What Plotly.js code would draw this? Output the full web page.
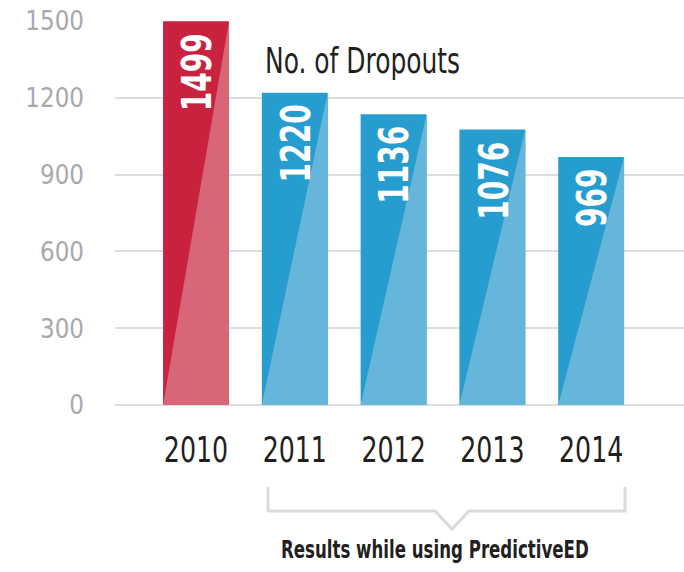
<!DOCTYPE html>
<html>
<head>
<meta charset="utf-8">
<script src="https://cdn.plot.ly/plotly-3.0.1.min.js"></script>
<style>html,body{margin:0;padding:0;background:#fff;}#chart{width:684px;height:572px;}</style>
</head>
<body>
<div id="chart"></div>
<script>
// ---- data ----
const years = ["2010", "2011", "2012", "2013", "2014"];
const dropouts = [1499, 1220, 1136, 1076, 969];
const yTicks = [0, 300, 600, 900, 1200, 1500];
const chartTitle = "No. of Dropouts";
const bracketLabel = "Results while using PredictiveED";

// ---- styling ----
const FONT = "'DejaVu Sans Condensed', 'Liberation Sans Narrow', sans-serif";
const darkColors = ["#C8223F", "#279DCF", "#279DCF", "#279DCF", "#279DCF"];
const lightColors = ["#D96678", "#66B6DC", "#66B6DC", "#66B6DC", "#66B6DC"];
const BW = 0.667;

const xs = years.map((_, i) => i);
const traces = [{
  type: "bar", x: xs, y: dropouts, width: BW,
  marker: {color: darkColors, line: {width: 0}},
  hoverinfo: "skip", showlegend: false
}];
xs.forEach((i) => {
  const l = i - BW / 2, r = i + BW / 2, v = dropouts[i];
  traces.push({
    type: "scatter", mode: "lines", x: [l, r, r, l], y: [0, 0, v, 0],
    fill: "toself", fillcolor: lightColors[i], line: {width: 0},
    hoverinfo: "skip", showlegend: false
  });
});

const annotations = xs.map((i) => ({
  x: i, y: dropouts[i], xref: "x", yref: "y",
  text: "<b>" + dropouts[i] + "</b>", textangle: -90, showarrow: false,
  xanchor: "center", yanchor: "top", align: "right", yshift: -10, xshift: 1,
  font: {family: FONT, size: 40, color: "#FFFFFF"}
}));
annotations.push({
  xref: "paper", yref: "paper", x: 0.435, y: 0.898, xanchor: "center", yanchor: "middle",
  text: chartTitle, showarrow: false, font: {family: FONT, size: 36, color: "#231F20"}
});
annotations.push({
  xref: "paper", yref: "paper", x: 0.5624, y: -0.3776, xanchor: "center", yanchor: "middle",
  text: "<b>" + bracketLabel + "</b>", showarrow: false, font: {family: FONT, size: 24, color: "#231F20"}
});

const layout = {
  width: 684, height: 572,
  margin: {l: 115, r: 0, t: 21, b: 167, pad: 0},
  paper_bgcolor: "#FFFFFF", plot_bgcolor: "#FFFFFF",
  showlegend: false,
  xaxis: {
    range: [-0.82, 4.94], tickvals: xs, ticktext: years,
    showgrid: false, zeroline: false, showline: false, ticks: "",
    ticklabelstandoff: 20,
    tickfont: {family: FONT, size: 36, color: "#231F20"}, fixedrange: true
  },
  yaxis: {
    range: [0, 1500], tickvals: yTicks, ticktext: yTicks.map(String),
    showgrid: true, gridcolor: "#DCDDDF", gridwidth: 2,
    zeroline: true, zerolinecolor: "#DCDDDF", zerolinewidth: 2,
    showline: false, ticks: "", ticklabelstandoff: 30,
    tickfont: {family: FONT, size: 27, color: "#A7A9AC"}, fixedrange: true
  },
  annotations: annotations,
  shapes: [{
    type: "path", xref: "paper", yref: "paper",
    path: "M 0.2689 -0.2135 L 0.2689 -0.276 L 0.5624 -0.276 L 0.5923 -0.3229 L 0.6221 -0.276 L 0.8963 -0.276 L 0.8963 -0.2135",
    line: {color: "#DADBDC", width: 3}, fillcolor: "rgba(0,0,0,0)"
  }]
};

// condense a text element horizontally (the reference uses a condensed typeface)
function condense(el, f) {
  const L = el.getComputedTextLength();
  if (!L) return;
  el.setAttribute("textLength", (L * f).toFixed(1));
  el.setAttribute("lengthAdjust", "spacingAndGlyphs");
}

Plotly.newPlot("chart", traces, layout, {displayModeBar: false, staticPlot: true}).then((gd) => {
  gd.querySelectorAll("g.xtick text").forEach((t) => condense(t, 0.78));
  gd.querySelectorAll("g.ytick text").forEach((t) => condense(t, 0.95));
  gd.querySelectorAll("g.annotation").forEach((g) => {
    const idx = +g.getAttribute("data-index");
    const t = g.querySelector("text");
    if (!t) return;
    if (idx < years.length) condense(t, 0.78);
    else if (idx === years.length) condense(t, 0.77);
    else condense(t, 0.77);
  });
});
</script>
</body>
</html>
